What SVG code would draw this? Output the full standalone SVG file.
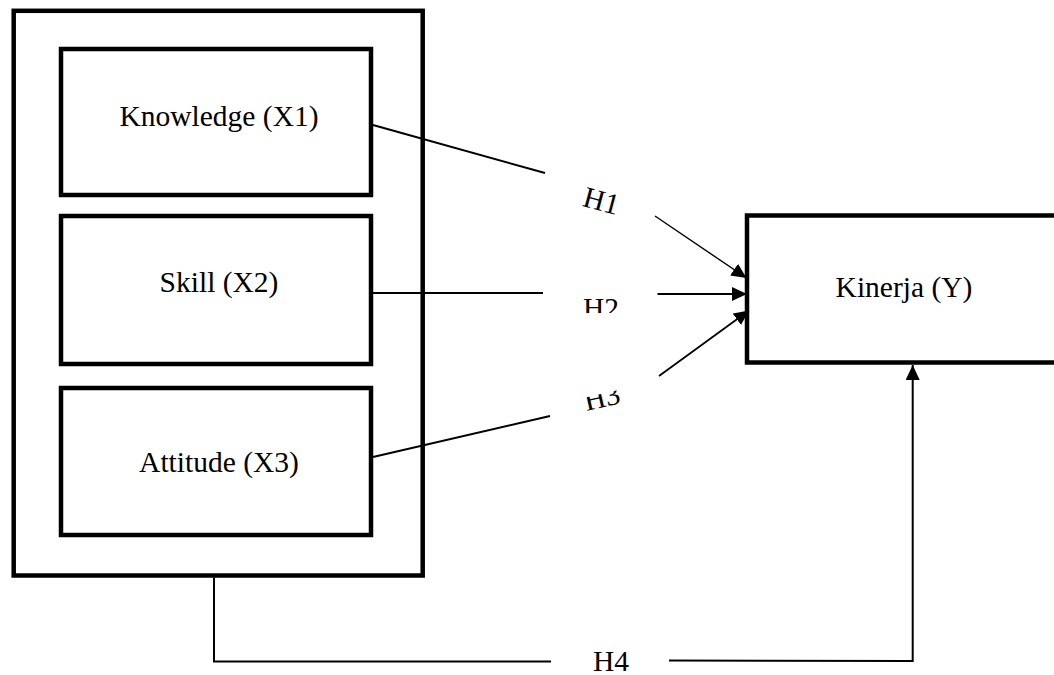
<svg xmlns="http://www.w3.org/2000/svg" width="1054" height="675" viewBox="0 0 1054 675">
  <style>
    .box { fill: #fff; stroke: #000; stroke-width: 4.5; }
    .lbl { font-family: "Liberation Serif", "Times New Roman", serif; font-size: 29.5px; fill: #000; }
    .ln { fill: none; stroke: #000; stroke-width: 2; }
  </style>
  <defs>
    <marker id="arr" markerUnits="userSpaceOnUse" markerWidth="16" markerHeight="14" refX="15" refY="7" orient="auto">
      <path d="M0,0 L15,7 L0,14 z" fill="#000"/>
    </marker>
    <clipPath id="clipH2">
      <rect x="570" y="280" width="60" height="33"/>
    </clipPath>
    <clipPath id="clipH3">
      <rect x="-30" y="-3.5" width="60" height="30"/>
    </clipPath>
  </defs>
  <rect width="1054" height="675" fill="#fff"/>

  <g id="group-x">
    <rect class="box" x="13.7" y="10.8" width="409" height="564.7"/>
  </g>
  <g id="knowledge">
    <rect class="box" x="61" y="49" width="310" height="146"/>
    <text class="lbl" x="219" y="126" text-anchor="middle">Knowledge (X1)</text>
  </g>
  <g id="skill">
    <rect class="box" x="61" y="216" width="310" height="148"/>
    <text class="lbl" x="219" y="291.7" text-anchor="middle">Skill (X2)</text>
  </g>
  <g id="attitude">
    <rect class="box" x="61" y="388" width="310" height="147"/>
    <text class="lbl" x="219" y="471.7" text-anchor="middle">Attitude (X3)</text>
  </g>
  <g id="kinerja">
    <rect class="box" x="747" y="215.5" width="314" height="147"/>
    <text class="lbl" x="904" y="296.7" text-anchor="middle">Kinerja (Y)</text>
  </g>

  <g id="connectors">
    <line class="ln" x1="373" y1="125" x2="545" y2="173"/>
    <line class="ln" x1="373" y1="293" x2="543" y2="293" style="stroke-width:1.8"/>
    <line class="ln" x1="373" y1="457" x2="550" y2="416"/>
    <line class="ln" x1="655" y1="216" x2="746.5" y2="278" style="stroke-width:1.4" marker-end="url(#arr)"/>
    <line class="ln" x1="657.5" y1="294" x2="747" y2="294" marker-end="url(#arr)"/>
    <line class="ln" x1="659" y1="376" x2="749" y2="310.5" style="stroke-width:1.8" marker-end="url(#arr)"/>
    <polyline class="ln" points="214,577.5 214,661.5 551,661.5"/>
    <polyline class="ln" points="669,660.5 912.7,661 912.7,365" marker-end="url(#arr)"/>
  </g>

  <g id="labels">
    <g transform="translate(601.5,201) rotate(15)">
      <text class="lbl" x="0" y="9.8" text-anchor="middle">H1</text>
    </g>
    <g clip-path="url(#clipH2)">
      <text class="lbl" x="583" y="317.8">H2</text>
    </g>
    <g transform="translate(601.8,397.5) rotate(-13)">
      <text class="lbl" x="0" y="9.8" text-anchor="middle" clip-path="url(#clipH3)">H3</text>
    </g>
    <text class="lbl" x="593" y="670.5">H4</text>
  </g>
</svg>
